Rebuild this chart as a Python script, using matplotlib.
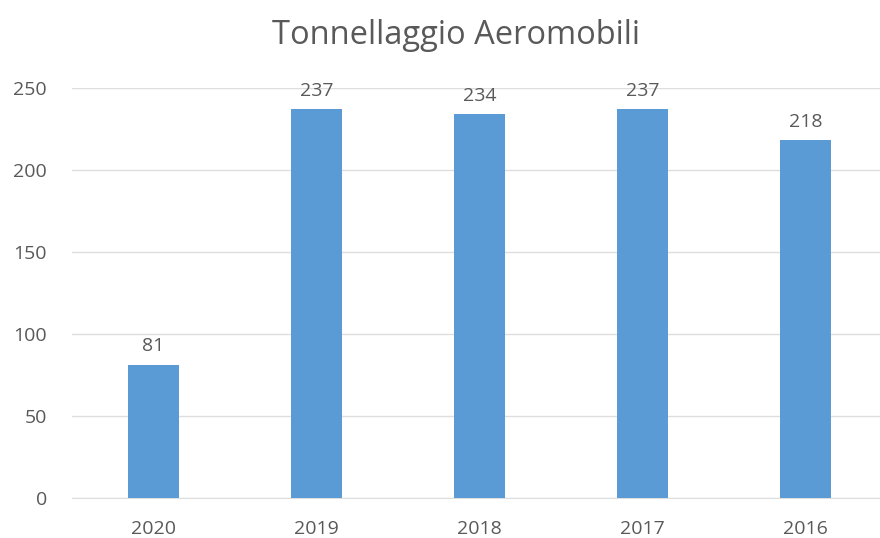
import matplotlib
matplotlib.use("Agg")
import matplotlib.pyplot as plt

# ─── DATA ──────────────────────────────────────────────────────────────────────
years  = ["2020", "2019", "2018", "2017", "2016"]
values = [81, 237, 234, 237, 218]
y_ticks = [0, 50, 100, 150, 200, 250]
TITLE = "Tonnellaggio Aeromobili"
# ───────────────────────────────────────────────────────────────────────────────

TEXT = "#595959"
BAR = "#5B9BD5"
GRID = "#DEDEDE"

plt.rcParams["font.family"] = ["Open Sans", "DejaVu Sans"]

fig = plt.figure(figsize=(8.8, 5.38), dpi=100)
ax = fig.add_axes([72 / 880, 1 - 498 / 538, 815 / 880, 410 / 538])

x = list(range(len(years)))
ax.bar(x, values, width=0.31, color=BAR, zorder=3)
for xi, v in zip(x, values):
    ax.annotate(str(v), (xi, v), xytext=(0, 7), textcoords="offset points",
                ha="center", va="bottom", fontsize=14, color=TEXT)

ax.set_xlim(-0.5, len(years) - 0.5)
ax.set_ylim(0, 250)
ax.set_yticks(y_ticks)
ax.set_xticks(x)
ax.set_xticklabels(years)
ax.yaxis.grid(True, color=GRID, linewidth=1, zorder=0)
ax.tick_params(axis="both", length=0, labelsize=14, colors=TEXT)
ax.tick_params(axis="y", pad=18)
ax.tick_params(axis="x", pad=16)
for side in ["top", "right", "left"]:
    ax.spines[side].set_visible(False)
ax.spines["bottom"].set_color(GRID)

fig.text(0.518, 1 - 35 / 538, TITLE, ha="center", va="center", fontsize=23.5, color=TEXT)

fig.savefig("out.png", dpi=100)
